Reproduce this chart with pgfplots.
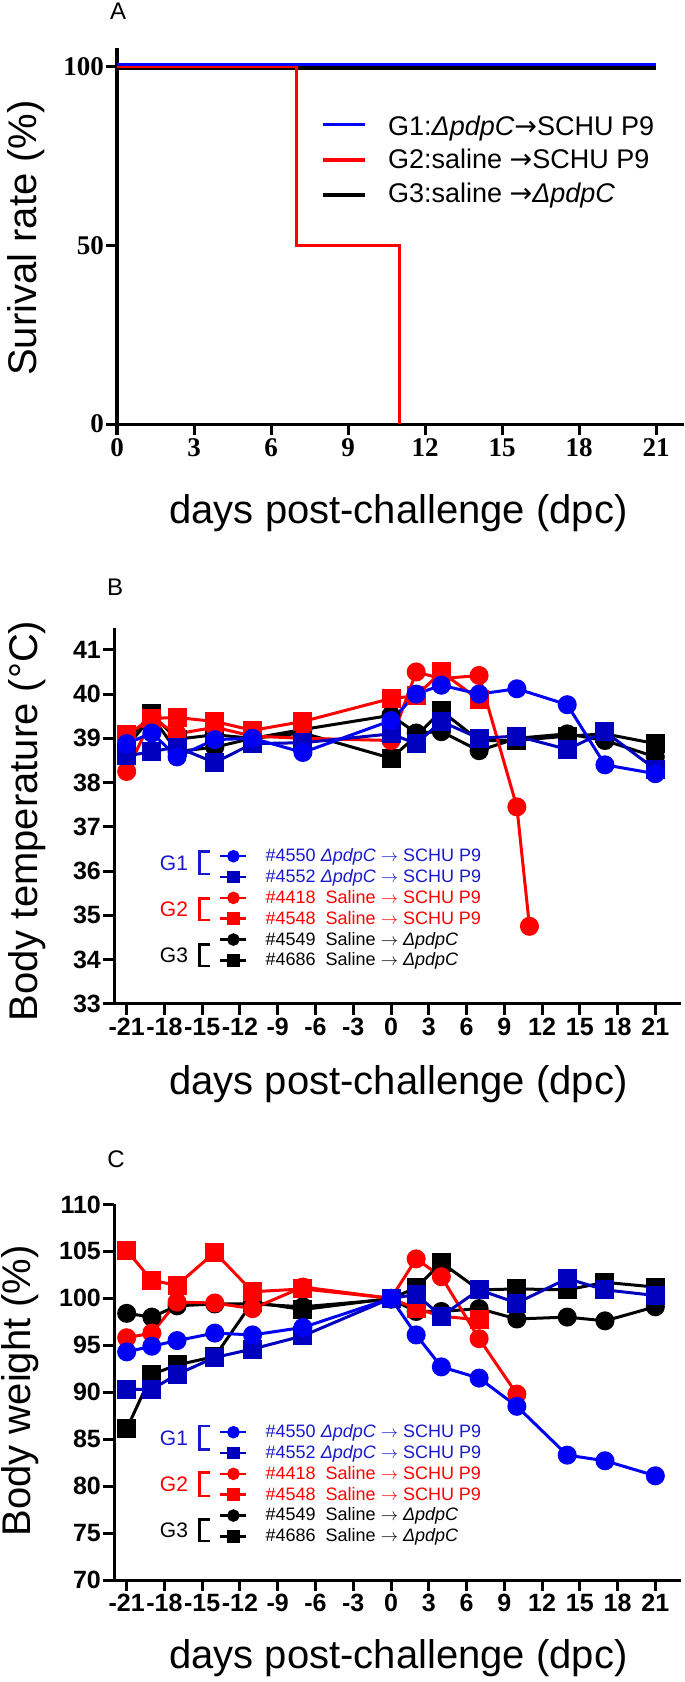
\documentclass[border=0pt]{standalone}
\usepackage{pgfplots}
\pgfplotsset{compat=1.18}
\usepackage{fontspec}
\setmainfont{Liberation Sans}
\newfontfamily\tnr{Liberation Serif}
\newfontfamily\djv{DejaVu Sans}
\newcommand{\arr}{{\djv →}}
\definecolor{cblue}{RGB}{0,0,245}
\definecolor{sblue}{RGB}{0,0,190}
\definecolor{tblue}{RGB}{25,25,205}
\definecolor{cred}{RGB}{255,0,0}
\pgfplotsset{
  panel/.style={
    scale only axis, clip=false,
    axis x line*=bottom, axis y line*=left,
    axis line style={line width=3bp, -},
    every outer x axis line/.append style={-},
    every outer y axis line/.append style={-},
    tick align=outside,
    major tick length=11bp,
    tick style={black, line width=3bp},
    /pgf/number format/assume math mode=true,
    xlabel style={font=\fontsize{40bp}{48bp}\selectfont, anchor=center},
    ylabel style={font=\fontsize{40bp}{48bp}\selectfont, anchor=center},
    title style={anchor=center},
    yticklabel style={inner sep=2bp},
  },
  dlin/.style={line width=3bp},
  smalllegend/.style={
    reverse legend,
    legend cell align=left,
    legend style={draw=none, fill=none, inner sep=0pt, font=\fontsize{18bp}{21bp}\selectfont,
      nodes={inner sep=0pt, text depth=0.22em}, row sep=5.6bp, column sep=18bp},
    legend image code/.code={\draw[mark repeat=2,mark phase=2,line width=2.5bp,#1] plot coordinates {(0bp,0bp) (13bp,0bp) (26bp,0bp)};},
    legend image post style={mark size=5bp},
  },
}
\begin{document}
\begin{tikzpicture}
\path[use as bounding box] (0,0) rectangle (685bp,-1682bp);

% ---------------- Panel A ----------------
\begin{axis}[panel, at={(117bp,-424bp)}, anchor=south west,
  width=566.7bp, height=375.7bp,
  xmin=0, xmax=22.07, ymin=0, ymax=105.1,
  xtick={0,3,...,21}, ytick={0,50,100},
  ticklabel style={font=\tnr\bfseries\fontsize{27bp}{31bp}\selectfont},
  xlabel={days post-challenge (dpc)},
  xlabel style={at={(axis description cs:0.4967,-0.2382)}},
  ylabel={Surival rate (\%)},
  ylabel style={at={(axis description cs:-0.1597,0.495)}},
  title={\fontsize{24bp}{28bp}\selectfont A}, title style={at={(axis description cs:0.0018,1.083)}},
  reverse legend, legend cell align=left,
  legend style={draw=none, fill=none, inner sep=0pt, at={(axis description cs:0.36,0.7027)}, anchor=west,
    font=\fontsize{27bp}{32bp}\selectfont, nodes={inner sep=0pt, text depth=0.22em}, row sep=11.8bp, column sep=21.8bp},
  legend image code/.code={\draw[#1] (0bp,0bp) -- (41.6bp,0bp);},
]
\addplot[black, line width=3.5bp, yshift=-1.5bp] coordinates {(0,100) (21,100)};
\addlegendentry{G3:saline \arr\textit{ΔpdpC}}
\addplot[cred, line width=3.5bp] coordinates {(0,100) (7,100) (7,50) (11,50) (11,0)};
\addlegendentry{G2:saline \arr SCHU P9}
\addplot[blue, line width=3.5bp, yshift=2bp] coordinates {(0,100) (21,100)};
\addlegendentry{G1:\textit{ΔpdpC}\arr SCHU P9}
\end{axis}

% ---------------- Panel B ----------------
\begin{axis}[panel, smalllegend, at={(114.1bp,-1003.7bp)}, anchor=south west,
  width=566.4bp, height=376bp,
  xmin=-22, xmax=23, ymin=33, ymax=41.5,
  xtick={-21,-18,...,21}, ytick={33,34,...,41},
  ticklabel style={font=\bfseries\fontsize{25bp}{30bp}\selectfont},
  xlabel={days post-challenge (dpc)},
  xlabel style={at={(axis description cs:0.502,-0.2136)}},
  ylabel={Body temperature (°C)},
  ylabel style={at={(axis description cs:-0.1538,0.486)}},
  title={\fontsize{24bp}{28bp}\selectfont B}, title style={at={(axis description cs:0.0016,1.092)}},
  legend style={at={(axis description cs:0.1852,0.2537)}, anchor=west},
]
\addplot[black, dlin, mark=square*, mark size=8bp, mark options={solid}] coordinates {
(-21,38.95) (-19,39.55) (-17,38.98) (-14,39.08) (-11,39.0) (-7,39.12) (0,38.55) (2,39.05) (4,39.62) (7,38.95) (10,38.95) (14,39.05) (17,39.1) (21,38.88)};
\addlegendentry{\#4686\ \ Saline $\rightarrow$ \textit{ΔpdpC}}
\addplot[black, dlin, mark=*, mark size=8bp, mark options={solid}] coordinates {
(-21,38.8) (-19,39.5) (-17,38.7) (-14,38.8) (-11,39.0) (-7,39.2) (0,39.52) (2,39.12) (4,39.15) (7,38.72) (10,39.0) (14,39.1) (17,38.95) (21,38.58)};
\addlegendentry{\#4549\ \ Saline $\rightarrow$ \textit{ΔpdpC}}
\addplot[cred, dlin, mark=square*, mark size=8bp, mark options={solid}] coordinates {
(-21,39.08) (-19,39.45) (-17,39.47) (-14,39.38) (-11,39.18) (-7,39.38) (0,39.9) (2,39.96) (4,40.5) (7,39.87)};
\addlegendentry{\textcolor{cred}{\#4548\ \ Saline $\rightarrow$ SCHU P9}}
\addplot[cred, dlin, mark=*, mark size=8bp, mark options={solid}] coordinates {
(-21,38.25) (-19,39.45) (-17,39.1) (-14,39.25) (-11,39.05) (-7,39.0) (0,38.95) (2,40.5) (4,40.35) (7,40.42) (10,37.45) (11,34.75)};
\addlegendentry{\textcolor{cred}{\#4418\ \ Saline $\rightarrow$ SCHU P9}}
\addplot[sblue, dlin, mark=square*, mark size=8bp, mark options={solid}] coordinates {
(-21,38.6) (-19,38.7) (-17,38.8) (-14,38.45) (-11,38.88) (-7,38.9) (0,39.1) (2,38.88) (4,39.38) (7,39.0) (10,39.05) (14,38.75) (17,39.15) (21,38.3)};
\addlegendentry{\textcolor{tblue}{\#4552 \textit{ΔpdpC} $\rightarrow$ SCHU P9}}
\addplot[cblue, dlin, mark=*, mark size=8bp, mark options={solid}] coordinates {
(-21,38.88) (-19,39.12) (-17,38.58) (-14,38.97) (-11,39.0) (-7,38.68) (0,39.4) (2,40.0) (4,40.2) (7,40.0) (10,40.12) (14,39.76) (17,38.4) (21,38.2)};
\addlegendentry{\textcolor{tblue}{\#4550 \textit{ΔpdpC} $\rightarrow$ SCHU P9}}
\end{axis}

% ---------------- Panel C ----------------
\begin{axis}[panel, smalllegend, at={(114.1bp,-1580bp)}, anchor=south west,
  width=566.4bp, height=375.6bp,
  xmin=-22, xmax=23, ymin=70, ymax=110,
  xtick={-21,-18,...,21}, ytick={70,75,...,110},
  ticklabel style={font=\bfseries\fontsize{25bp}{30bp}\selectfont},
  xlabel={days post-challenge (dpc)},
  xlabel style={at={(axis description cs:0.502,-0.2093)}},
  ylabel={Body weight (\%)},
  ylabel style={at={(axis description cs:-0.166,0.504)}},
  title={\fontsize{24bp}{28bp}\selectfont C}, title style={at={(axis description cs:0.0034,1.105)}},
  legend style={at={(axis description cs:0.1852,0.2548)}, anchor=west},
]
\addplot[black, dlin, mark=square*, mark size=8bp, mark options={solid}] coordinates {
(-21,86.1) (-19,91.9) (-17,92.9) (-14,93.8) (-11,99.6) (-7,98.8) (0,100) (2,101.1) (4,103.8) (7,100.9) (10,101.0) (14,100.9) (17,101.7) (21,101.2)};
\addlegendentry{\#4686\ \ Saline $\rightarrow$ \textit{ΔpdpC}}
\addplot[black, dlin, mark=*, mark size=8bp, mark options={solid}] coordinates {
(-21,98.4) (-19,98.0) (-17,99.2) (-14,99.4) (-11,99.4) (-7,99.1) (0,99.9) (2,98.6) (4,98.6) (7,98.9) (10,97.8) (14,98.0) (17,97.6) (21,99.1)};
\addlegendentry{\#4549\ \ Saline $\rightarrow$ \textit{ΔpdpC}}
\addplot[cred, dlin, mark=square*, mark size=8bp, mark options={solid}] coordinates {
(-21,105.1) (-19,101.9) (-17,101.4) (-14,104.9) (-11,100.7) (-7,101.0) (0,100) (2,98.9) (4,98.1) (7,97.7)};
\addlegendentry{\textcolor{cred}{\#4548\ \ Saline $\rightarrow$ SCHU P9}}
\addplot[cred, dlin, mark=*, mark size=8bp, mark options={solid}] coordinates {
(-21,95.8) (-19,96.3) (-17,99.6) (-14,99.5) (-11,98.9) (-7,101.2) (0,100) (2,104.2) (4,102.3) (7,95.7) (10,89.8)};
\addlegendentry{\textcolor{cred}{\#4418\ \ Saline $\rightarrow$ SCHU P9}}
\addplot[sblue, dlin, mark=square*, mark size=8bp, mark options={solid}] coordinates {
(-21,90.3) (-19,90.3) (-17,91.9) (-14,93.7) (-11,94.6) (-7,96.0) (0,100) (2,100.4) (4,98.1) (7,100.9) (10,99.5) (14,102.1) (17,100.9) (21,100.3)};
\addlegendentry{\textcolor{tblue}{\#4552 \textit{ΔpdpC} $\rightarrow$ SCHU P9}}
\addplot[cblue, dlin, mark=*, mark size=8bp, mark options={solid}] coordinates {
(-21,94.3) (-19,94.9) (-17,95.5) (-14,96.3) (-11,96.1) (-7,96.9) (0,100) (2,96.1) (4,92.7) (7,91.5) (10,88.5) (14,83.3) (17,82.7) (21,81.1)};
\addlegendentry{\textcolor{tblue}{\#4550 \textit{ΔpdpC} $\rightarrow$ SCHU P9}}
\end{axis}

% ---------------- group brackets ----------------
\begin{scope}[line width=2.5bp, font=\fontsize{21bp}{25bp}\selectfont]
\draw[tblue] (210bp,-851.6bp) -- (199.3bp,-851.6bp) -- (199.3bp,-874bp) -- (210bp,-874bp);
\node[tblue] at (174bp,-863bp) {G1};
\draw[cred] (210bp,-898.3bp) -- (199.3bp,-898.3bp) -- (199.3bp,-920bp) -- (210bp,-920bp);
\node[cred] at (174bp,-909.2bp) {G2};
\draw[black] (210bp,-944.3bp) -- (199.3bp,-944.3bp) -- (199.3bp,-966bp) -- (210bp,-966bp);
\node[black] at (174bp,-955bp) {G3};
\draw[tblue] (210bp,-1426bp) -- (199.3bp,-1426bp) -- (199.3bp,-1449.3bp) -- (210bp,-1449.3bp);
\node[tblue] at (174bp,-1438bp) {G1};
\draw[cred] (210bp,-1472.7bp) -- (199.3bp,-1472.7bp) -- (199.3bp,-1496bp) -- (210bp,-1496bp);
\node[cred] at (174bp,-1484.3bp) {G2};
\draw[black] (210bp,-1519.3bp) -- (199.3bp,-1519.3bp) -- (199.3bp,-1541bp) -- (210bp,-1541bp);
\node[black] at (174bp,-1530bp) {G3};
\end{scope}
\end{tikzpicture}
\end{document}
